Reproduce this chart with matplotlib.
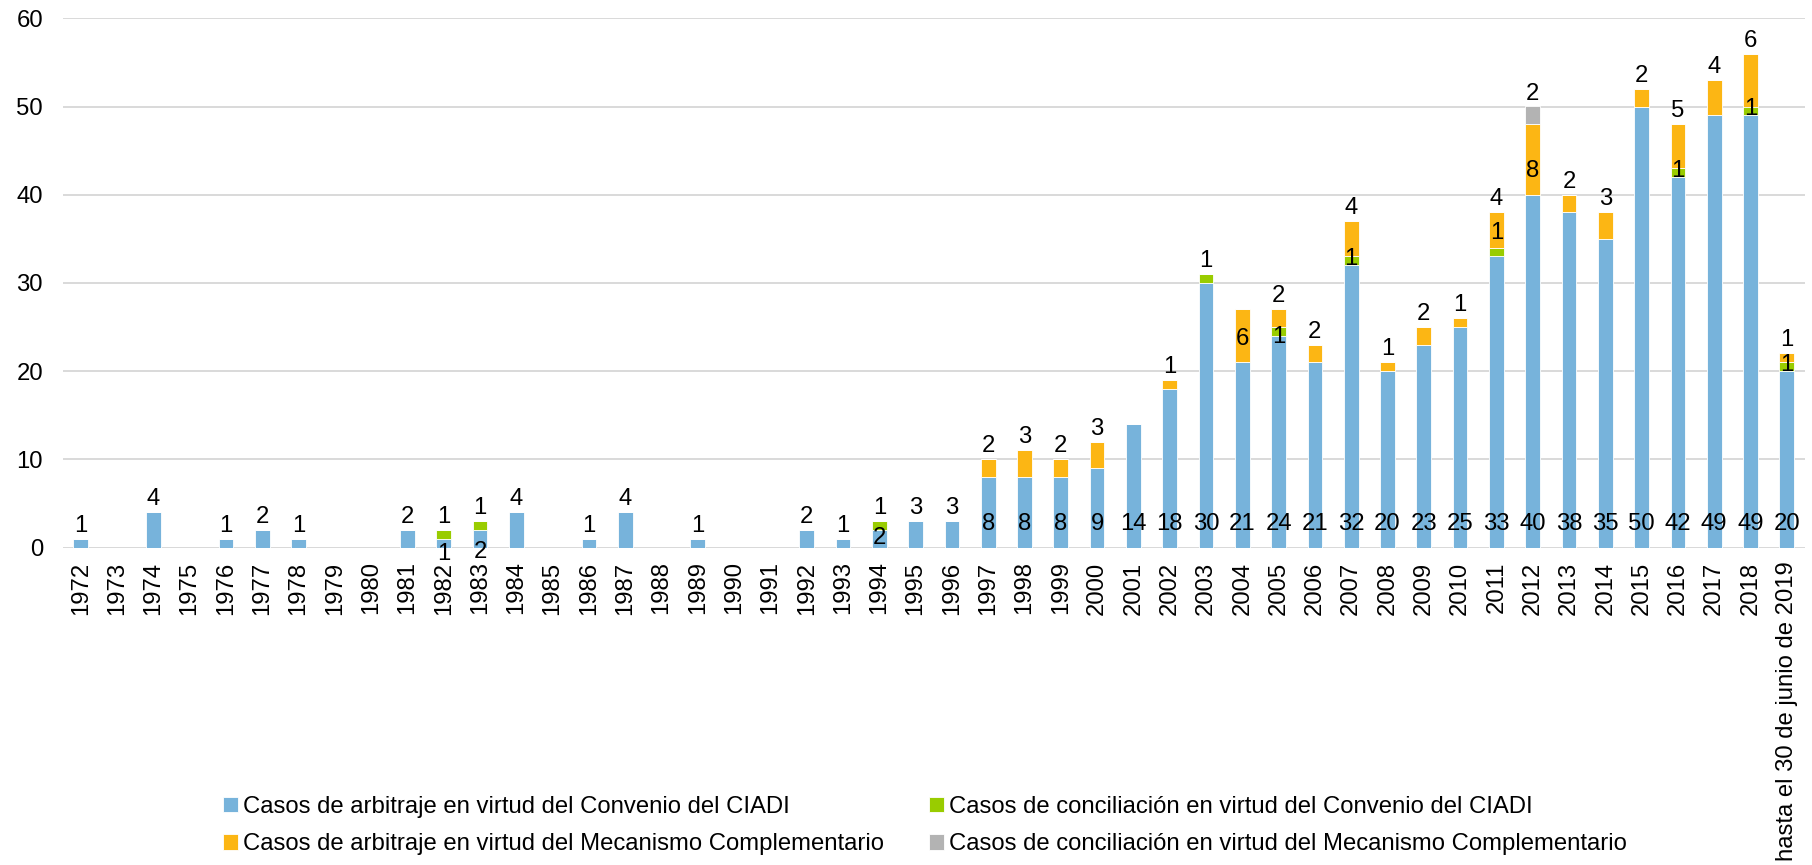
import matplotlib
matplotlib.use("Agg")
import matplotlib.pyplot as plt
import numpy as np

plt.rcParams['font.family'] = ['Liberation Sans', 'DejaVu Sans']

categories = ['1972', '1973', '1974', '1975', '1976', '1977', '1978', '1979', '1980', '1981',
              '1982', '1983', '1984', '1985', '1986', '1987', '1988', '1989', '1990', '1991',
              '1992', '1993', '1994', '1995', '1996', '1997', '1998', '1999', '2000', '2001',
              '2002', '2003', '2004', '2005', '2006', '2007', '2008', '2009', '2010', '2011',
              '2012', '2013', '2014', '2015', '2016', '2017', '2018',
              'hasta el 30 de junio de 2019']

arbitraje_ciadi = [1, 0, 4, 0, 1, 2, 1, 0, 0, 2,
                   1, 2, 4, 0, 1, 4, 0, 1, 0, 0,
                   2, 1, 2, 3, 3, 8, 8, 8, 9, 14,
                   18, 30, 21, 24, 21, 32, 20, 23, 25, 33,
                   40, 38, 35, 50, 42, 49, 49, 20]
conciliacion_ciadi = [0, 0, 0, 0, 0, 0, 0, 0, 0, 0,
                      1, 1, 0, 0, 0, 0, 0, 0, 0, 0,
                      0, 0, 1, 0, 0, 0, 0, 0, 0, 0,
                      0, 1, 0, 1, 0, 1, 0, 0, 0, 1,
                      0, 0, 0, 0, 1, 0, 1, 1]
arbitraje_mc = [0, 0, 0, 0, 0, 0, 0, 0, 0, 0,
                0, 0, 0, 0, 0, 0, 0, 0, 0, 0,
                0, 0, 0, 0, 0, 2, 3, 2, 3, 0,
                1, 0, 6, 2, 2, 4, 1, 2, 1, 4,
                8, 2, 3, 2, 5, 4, 6, 1]
conciliacion_mc = [0, 0, 0, 0, 0, 0, 0, 0, 0, 0,
                   0, 0, 0, 0, 0, 0, 0, 0, 0, 0,
                   0, 0, 0, 0, 0, 0, 0, 0, 0, 0,
                   0, 0, 0, 0, 0, 0, 0, 0, 0, 0,
                   2, 0, 0, 0, 0, 0, 0, 0]

series_names = ['Casos de arbitraje en virtud del Convenio del CIADI',
                'Casos de conciliación en virtud del Convenio del CIADI',
                'Casos de arbitraje en virtud del Mecanismo Complementario',
                'Casos de conciliación en virtud del Mecanismo Complementario']
series_values = [arbitraje_ciadi, conciliacion_ciadi, arbitraje_mc, conciliacion_mc]
colors = ['#77B3DB', '#99CC00', '#FCB614', '#B3B3B3']

# ---- label placement styles (pixel offsets) ----
FS = 17.2
PX = 72.0 / 100.0           # pixel -> points at dpi 100
ABOVE_PX = 13
BASE_PX = 24
blue_base_override = {'1982': -6, '1983': -5, '1994': 9}
blue_base_from = '1997'
green_center_override = {'2005': -6, '2011': 19}
green_center_default = 2
orange_centered = {'2004': -3, '2012': -12}

fig = plt.figure(figsize=(18.12, 8.65), dpi=100)
ax = fig.add_axes([62.5 / 1812, 1 - 547.5 / 865, (1805 - 62.5) / 1812, (547.5 - 18.3) / 865])

x = np.arange(len(categories))
bottom = np.zeros(len(categories))
handles = []
for vals, col, name in zip(series_values, colors, series_names):
    v = np.array(vals, dtype=float)
    h = ax.bar(x, v, 0.405, bottom=bottom, color=col, edgecolor='white', linewidth=0.6,
               label=name, zorder=3)
    handles.append(h)
    bottom = bottom + v

base_idx = categories.index(blue_base_from)


def put(i, y, dy_px, txt):
    ax.annotate(txt, xy=(x[i], y), xytext=(0, dy_px * PX), textcoords='offset points',
                ha='center', va='center', fontsize=FS, color='black', zorder=5,
                annotation_clip=False)


for i, cat in enumerate(categories):
    b = 0.0
    nz = [k for k in range(4) if series_values[k][i] > 0]
    top_k = nz[-1] if nz else None
    for k in range(4):
        v = series_values[k][i]
        if v <= 0:
            continue
        txt = str(v)
        if k == 0:
            if top_k == 0 and i < base_idx:
                put(i, b + v, ABOVE_PX, txt)
            else:
                put(i, 0, blue_base_override.get(cat, BASE_PX), txt)
        elif k == 1:
            if top_k == 1:
                put(i, b + v, ABOVE_PX, txt)
            else:
                put(i, b + v / 2, green_center_override.get(cat, green_center_default), txt)
        elif k == 2:
            if cat in orange_centered:
                put(i, b + v / 2, orange_centered[cat], txt)
            else:
                put(i, b + v, ABOVE_PX, txt)
        else:
            put(i, b + v, ABOVE_PX, txt)
        b += v

ax.set_xlim(-0.5, len(categories) - 0.5)
ax.set_ylim(0, 60)
ax.set_yticks([0, 10, 20, 30, 40, 50, 60])
ax.yaxis.grid(True, color='#D9D9D9', linewidth=1.4, zorder=0)
ax.set_axisbelow(True)
for s in ax.spines.values():
    s.set_visible(False)
ax.axhline(0, color='#D9D9D9', linewidth=1.4, zorder=1)
ax.set_xticks(x)
ax.set_xticklabels(categories, rotation=90, fontsize=FS)
ax.tick_params(axis='x', length=0, pad=10)
ax.tick_params(axis='y', length=0, pad=14, labelsize=FS)

order = [0, 2, 1, 3]
leg = fig.legend([handles[k] for k in order], [series_names[k] for k in order],
                 loc='upper left', bbox_to_anchor=(223 / 1812, 1 - 796 / 865),
                 ncol=2, frameon=False, fontsize=FS, handlelength=0.63, handleheight=0.63,
                 handletextpad=0.2, columnspacing=1.88, labelspacing=0.64, borderpad=0,
                 borderaxespad=0)

fig.savefig('out.png', dpi=100)
